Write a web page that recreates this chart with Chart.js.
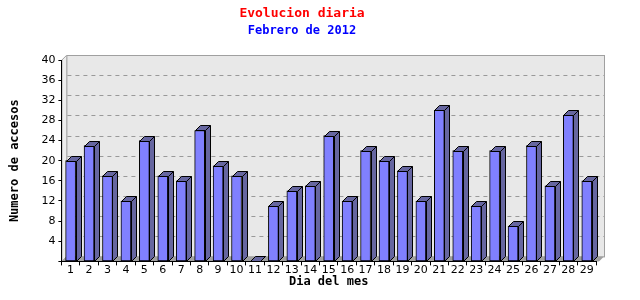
<!DOCTYPE html>
<html lang="es">
<head>
  <meta charset="UTF-8">
  <title>Evolucion diaria</title>
  <script src="https://cdn.jsdelivr.net/npm/chart.js"></script>
  <style>
    html, body { margin: 0; padding: 0; background: #fff; }
    #wrap { width: 640px; height: 300px; }
  </style>
</head>
<body>
  <div id="wrap"><canvas id="accesos"></canvas></div>
  <script>
    // datos
    const dias = ['1','2','3','4','5','6','7','8','9','10','11','12','13','14','15',
                  '16','17','18','19','20','21','22','23','24','25','26','27','28','29'];
    const accesos = [20, 23, 17, 12, 24, 17, 16, 26, 19, 17, 0, 11, 14, 15, 25,
                     12, 22, 20, 18, 12, 30, 22, 11, 22, 7, 23, 15, 29, 16];
    const yTicks = [4, 8, 12, 16, 20, 24, 28, 32, 36, 40];

    const DEPTH = 5;

    // pared de fondo, pared izquierda, suelo y rejilla discontinua
    const fondo3d = {
      id: 'fondo3d',
      beforeDraw(chart) {
        const { ctx, chartArea: a, scales } = chart;
        const y = scales.y;
        const top = y.getPixelForValue(40);
        const base = y.getPixelForValue(0);
        const right = a.right + 3;
        ctx.save();
        ctx.lineWidth = 1;
        // pared izquierda
        ctx.fillStyle = '#eeeeee';
        ctx.strokeStyle = '#a0a0a0';
        ctx.beginPath();
        ctx.moveTo(a.left + 0.5, top);
        ctx.lineTo(a.left + DEPTH + 0.5, top - DEPTH);
        ctx.lineTo(a.left + DEPTH + 0.5, base - DEPTH);
        ctx.lineTo(a.left + 0.5, base);
        ctx.closePath();
        ctx.fill();
        ctx.stroke();
        // pared de fondo
        ctx.fillStyle = '#e8e8e8';
        ctx.fillRect(a.left + DEPTH, top - DEPTH, right + DEPTH - a.left - DEPTH, base - top);
        ctx.strokeRect(a.left + DEPTH + 0.5, top - DEPTH + 0.5, right + DEPTH - a.left - DEPTH, base - top);
        // suelo
        ctx.fillStyle = '#a0a0a0';
        ctx.beginPath();
        ctx.moveTo(a.left, base);
        ctx.lineTo(a.left + DEPTH, base - DEPTH);
        ctx.lineTo(right + DEPTH, base - DEPTH);
        ctx.lineTo(right, base);
        ctx.closePath();
        ctx.fill();
        // rejilla
        ctx.strokeStyle = '#999999';
        ctx.setLineDash([4, 4]);
        yTicks.slice(0, -1).forEach(v => {
          const py = Math.round(y.getPixelForValue(v) - DEPTH) + 0.5;
          ctx.beginPath();
          ctx.moveTo(a.left + DEPTH + 1, py);
          ctx.lineTo(right + DEPTH, py);
          ctx.stroke();
        });
        ctx.restore();
      }
    };

    // caras superior y lateral de las barras
    const barras3d = {
      id: 'barras3d',
      afterDatasetsDraw(chart) {
        const { ctx } = chart;
        const meta = chart.getDatasetMeta(0);
        ctx.save();
        ctx.fillStyle = '#6666a0';
        ctx.strokeStyle = '#000';
        ctx.lineWidth = 1;
        meta.data.forEach(bar => {
          const { x, y, base, width } = bar.getProps(['x', 'y', 'base', 'width'], true);
          const l = Math.round(x - width / 2) + 0.5;
          const r = Math.round(x + width / 2) + 0.5;
          const t = Math.round(y) + 0.5;
          const b = Math.round(base) + 0.5;
          ctx.beginPath();
          ctx.moveTo(l, t);
          ctx.lineTo(l + DEPTH, t - DEPTH);
          ctx.lineTo(r + DEPTH, t - DEPTH);
          ctx.lineTo(r + DEPTH, b - DEPTH);
          ctx.lineTo(r, b);
          ctx.lineTo(r, t);
          ctx.closePath();
          ctx.fill();
          ctx.stroke();
          ctx.beginPath();
          ctx.moveTo(r, t);
          ctx.lineTo(r + DEPTH, t - DEPTH);
          ctx.stroke();
        });
        ctx.restore();
      }
    };

    const mono = "'DejaVu Sans Mono', monospace";
    const sans = "'DejaVu Sans', sans-serif";

    new Chart(document.getElementById('accesos'), {
      type: 'bar',
      data: {
        labels: dias,
        datasets: [{
          data: accesos,
          backgroundColor: '#8080ff',
          borderColor: '#000',
          borderWidth: 1,
          borderSkipped: false,
          barThickness: 10
        }]
      },
      options: {
        responsive: true,
        maintainAspectRatio: false,
        animation: false,
        layout: { padding: { top: 0, right: 44, bottom: 11, left: 8 } },
        plugins: {
          legend: { display: false },
          tooltip: { enabled: false },
          title: {
            display: true,
            text: 'Evolucion diaria',
            color: '#ff0000',
            font: { family: mono, size: 13, weight: 'bold' },
            padding: { top: 6, bottom: 2 }
          },
          subtitle: {
            display: true,
            text: 'Febrero de 2012',
            color: '#0000ff',
            font: { family: mono, size: 12, weight: 'bold' },
            padding: { top: 0, bottom: 22 }
          }
        },
        scales: {
          x: {
            offset: true,
            grid: { offset: true, drawOnChartArea: false, tickLength: 4, color: '#000' },
            border: { color: '#000' },
            ticks: { color: '#000', font: { family: sans, size: 11 }, padding: -2, maxRotation: 0, autoSkip: false },
            title: {
              display: true,
              text: 'Dia del mes',
              color: '#000',
              font: { family: mono, size: 12, weight: 'bold' },
              padding: { top: 0, bottom: 0 }
            }
          },
          y: {
            min: 0,
            max: 40,
            grid: { drawOnChartArea: false, tickLength: 3, color: '#000' },
            border: { color: '#000' },
            ticks: {
              stepSize: 4,
              color: '#000',
              padding: 3,
              font: { family: sans, size: 11 },
              callback: v => (yTicks.includes(v) ? v : '')
            },
            title: {
              display: true,
              text: 'Numero de accesos',
              color: '#000',
              font: { family: mono, size: 12, weight: 'bold' },
              padding: { top: 0, bottom: 16 }
            }
          }
        }
      },
      plugins: [fondo3d, barras3d]
    });
  </script>
</body>
</html>
